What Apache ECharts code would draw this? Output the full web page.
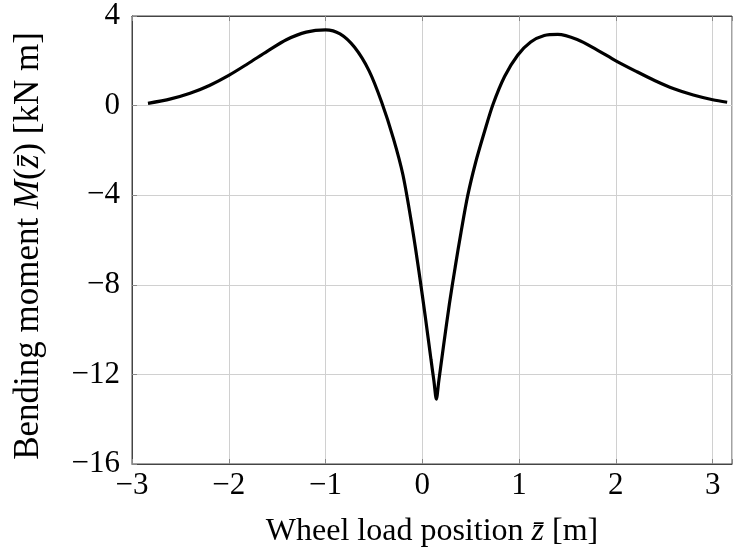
<!DOCTYPE html>
<html>
<head>
<meta charset="utf-8">
<script src="https://cdn.jsdelivr.net/npm/echarts@6/dist/echarts.min.js"></script>
<style>
html,body{margin:0;padding:0;background:#fff;}
#c{width:735px;height:557px;}
</style>
</head>
<body>
<div id="c"></div>
<script>
// Wheel load position z̄ [m]
const zVals = [-2.835, -2.6, -2.4, -2.2, -2.0, -1.8, -1.6, -1.4, -1.2, -1.0, -0.85, -0.7, -0.55, -0.42, -0.3, -0.2, -0.1, -0.03, 0.03, 0.09, 0.12, 0.145, 0.17, 0.22, 0.28, 0.34, 0.40, 0.47, 0.55, 0.64, 0.73, 0.85, 0.985, 1.12, 1.26, 1.40, 1.6, 1.8, 2.0, 2.2, 2.4, 2.6, 2.8, 3.0, 3.15];
// Bending moment M(z̄) [kN m]
const mVals = [0.10, 0.30, 0.55, 0.90, 1.35, 1.88, 2.43, 2.95, 3.28, 3.38, 3.20, 2.60, 1.55, 0.15, -1.45, -3.1, -5.55, -7.55, -9.4, -11.35, -12.3, -13.1, -12.3, -10.7, -8.85, -7.2, -5.65, -4.0, -2.55, -1.2, 0.05, 1.3, 2.25, 2.84, 3.13, 3.18, 2.95, 2.5, 2.0, 1.55, 1.12, 0.75, 0.47, 0.26, 0.15];
const xTicks = [-3, -2, -1, 0, 1, 2, 3];
const yTicks = [-16, -12, -8, -4, 0, 4];

const font = 'Liberation Serif';
const fmt = v => (v < 0 ? '\u2212' + Math.abs(v) : String(v));
const data = zVals.map((z, i) => [z, mVals[i]]);

const chart = echarts.init(document.getElementById('c'));
const axisLine = {show: true, onZero: false, lineStyle: {color: '#444', width: 1}};
const tick = {show: true, inside: true, length: 5, lineStyle: {color: '#888', width: 1}};
chart.setOption({
  animation: false,
  grid: {left: 132, right: 1, top: 16, bottom: 93, show: true, borderColor: '#444', borderWidth: 1},
  xAxis: [{
    type: 'value', min: -3, max: 3.2, interval: 1,
    axisLine, axisTick: tick,
    axisLabel: {fontFamily: font, fontSize: 31, color: '#000', margin: 6,
      formatter: v => xTicks.includes(v) ? fmt(v) : ''},
    splitLine: {show: true, lineStyle: {color: '#d0d0d0', width: 1}},
    name: 'Wheel load position {i|z̄} [m]',
    nameLocation: 'middle', nameGap: 52,
    nameTextStyle: {fontFamily: font, fontSize: 32, color: '#000',
      rich: {i: {fontFamily: font, fontSize: 32, fontStyle: 'italic', color: '#000'}}}
  }, {
    type: 'value', position: 'top', min: -3, max: 3.2, interval: 1,
    axisLine, axisTick: tick, axisLabel: {show: false}, splitLine: {show: false}
  }],
  yAxis: [{
    type: 'value', min: -16, max: 4, interval: 4,
    axisLine, axisTick: tick,
    axisLabel: {fontFamily: font, fontSize: 31, color: '#000', margin: 12,
      formatter: v => yTicks.includes(v) ? fmt(v) : ''},
    splitLine: {show: true, lineStyle: {color: '#d0d0d0', width: 1}},
    name: 'Bending moment {i|M}({i|z̄}) [kN m]',
    nameLocation: 'middle', nameGap: 86, nameRotate: 90,
    nameTextStyle: {fontFamily: font, fontSize: 35, color: '#000', padding: [0, 12, 0, 0],
      rich: {i: {fontFamily: font, fontSize: 35, fontStyle: 'italic', color: '#000'}}}
  }],
  series: [{
    type: 'line', data, showSymbol: false, smooth: 0.3,
    lineStyle: {color: '#000', width: 3.2}, clip: true
  }]
});
</script>
</body>
</html>
